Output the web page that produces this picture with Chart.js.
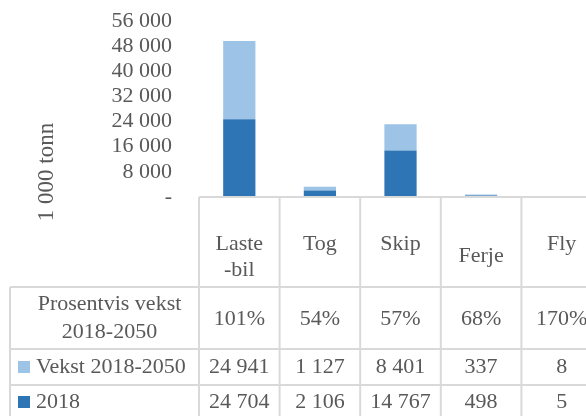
<!DOCTYPE html>
<html lang="no">
<head>
    <meta charset="UTF-8">
    <title>Godstransport 2018-2050</title>
    <script src="https://cdn.jsdelivr.net/npm/chart.js"></script>
    <style>
        html, body { margin: 0; padding: 0; background: #fff; }
        .wrap { width: 586px; height: 416px; overflow: hidden; position: relative; }
    </style>
</head>
<body>
    <div class="wrap">
        <canvas id="chart" width="640" height="416"></canvas>
    </div>
    <script>
        // data
        const categories = [['Laste', '-bil'], ['Tog'], ['Skip'], ['Ferje'], ['Fly']];
        const base2018 = [24704, 2106, 14767, 498, 5];
        const vekst = [24941, 1127, 8401, 337, 8];
        const prosent = ['101%', '54%', '57%', '68%', '170%'];
        const yTicks = [0, 8000, 16000, 24000, 32000, 40000, 48000, 56000];

        const dark = '#2e75b6';
        const light = '#9dc3e6';
        const textCol = '#595959';
        const lineCol = '#d9d9d9';
        const font = '"Liberation Serif", "Times New Roman", serif';

        const fmt = v => v === 0 ? '-' : String(v).replace(/\B(?=(\d{3})+(?!\d))/g, ' ');

        // draws the data table under the plot, the axis title and the baseline
        const tablePlugin = {
            id: 'dataTable',
            afterDraw(chart) {
                const ctx = chart.ctx;
                const area = chart.chartArea;
                const xs = chart.scales.x;
                const cw = (area.right - area.left) / categories.length;
                const rows = [area.bottom, 287, 349, 385, 420];
                const labelLeft = 10;

                ctx.save();
                ctx.strokeStyle = lineCol;
                ctx.lineWidth = 2;
                ctx.beginPath();
                // baseline
                ctx.moveTo(area.left, area.bottom);
                ctx.lineTo(area.right, area.bottom);
                // horizontal table rules
                for (let r = 1; r < rows.length - 1; r++) {
                    ctx.moveTo(labelLeft, rows[r]);
                    ctx.lineTo(area.right, rows[r]);
                }
                // vertical rules
                for (let i = 0; i <= categories.length; i++) {
                    const x = area.left + i * cw;
                    ctx.moveTo(x, area.bottom);
                    ctx.lineTo(x, rows[rows.length - 1]);
                }
                ctx.moveTo(labelLeft, rows[1]);
                ctx.lineTo(labelLeft, rows[rows.length - 1]);
                ctx.stroke();

                ctx.fillStyle = textCol;
                ctx.font = '22px ' + font;
                ctx.textAlign = 'center';
                ctx.textBaseline = 'alphabetic';

                const headDrop = { Ferje: 12 };
                categories.forEach((lines, i) => {
                    const cx = xs.getPixelForValue(i);
                    lines.forEach((t, k) => {
                        ctx.fillText(t, cx, 250 + k * 26 + (headDrop[t] || 0));
                    });
                    ctx.fillText(prosent[i], cx, 325);
                    ctx.fillText(fmt(vekst[i]), cx, 373);
                    ctx.fillText(fmt(base2018[i]), cx, 408);
                });

                // row labels
                const lx = (labelLeft + area.left) / 2 + 5;
                ctx.fillText('Prosentvis vekst', lx, 310);
                ctx.fillText('2018-2050', lx, 338);
                ctx.textAlign = 'left';
                ctx.fillText(chart.data.datasets[1].label, 36, 373);
                ctx.fillText(chart.data.datasets[0].label, 36, 408);
                ctx.fillStyle = light;
                ctx.fillRect(18, 361, 12, 12);
                ctx.fillStyle = dark;
                ctx.fillRect(18, 396, 12, 12);

                // axis title
                ctx.fillStyle = textCol;
                ctx.font = '23px ' + font;
                ctx.translate(53, 172);
                ctx.rotate(-Math.PI / 2);
                ctx.textAlign = 'center';
                ctx.fillText('1 000 tonn', 0, 0);
                ctx.restore();
            }
        };

        new Chart(document.getElementById('chart'), {
            type: 'bar',
            data: {
                labels: categories.map(c => c.join('')),
                datasets: [
                    { label: '2018', data: base2018, backgroundColor: dark },
                    { label: 'Vekst 2018-2050', data: vekst, backgroundColor: light }
                ]
            },
            options: {
                responsive: false,
                animation: false,
                layout: { padding: { left: 0, top: 21, right: 38, bottom: 219 } },
                plugins: { legend: { display: false }, tooltip: { enabled: false } },
                datasets: { bar: { categoryPercentage: 1, barPercentage: 0.4 } },
                scales: {
                    x: { stacked: true, display: false },
                    y: {
                        stacked: true,
                        min: 0,
                        max: 56000,
                        afterFit: s => {
                            s.width = 199;
                            s.paddingTop = 0;
                            s.paddingBottom = 0;
                        },
                        afterBuildTicks: s => { s.ticks = yTicks.map(v => ({ value: v })); },
                        grid: { display: false, drawTicks: false },
                        border: { display: false },
                        ticks: {
                            autoSkip: false,
                            padding: 27,
                            color: textCol,
                            font: { family: font, size: 22 },
                            callback: v => fmt(v)
                        }
                    }
                }
            },
            plugins: [tablePlugin]
        });
    </script>
</body>
</html>
